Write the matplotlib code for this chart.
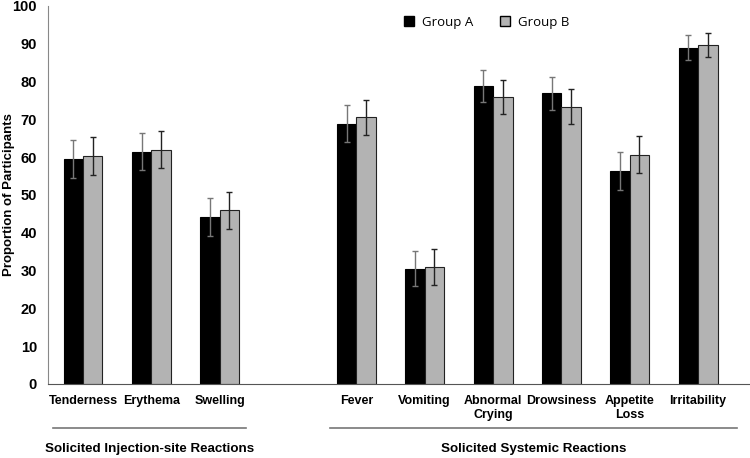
import matplotlib

matplotlib.use("Agg")
import matplotlib.pyplot as plt
from matplotlib.patches import Patch

categories = ["Tenderness", "Erythema", "Swelling",
              "Fever", "Vomiting", "Abnormal\nCrying", "Drowsiness",
              "Appetite\nLoss", "Irritability"]
group_a = [59.6, 61.4, 44.2, 68.9, 30.5, 78.8, 76.9, 56.4, 89.0]
group_b = [60.4, 62.0, 45.9, 70.5, 31.0, 75.9, 73.4, 60.6, 89.7]
err_a = [5.0, 4.9, 5.0, 4.8, 4.7, 4.3, 4.4, 5.0, 3.3]
err_b = [5.0, 4.9, 4.9, 4.6, 4.8, 4.4, 4.5, 4.9, 3.2]
groups = ["Solicited Injection-site Reactions", "Solicited Systemic Reactions"]
yticks = [0, 10, 20, 30, 40, 50, 60, 70, 80, 90, 100]

# slot positions: one empty slot between the two reaction groups
pos = [0, 1, 2, 4, 5, 6, 7, 8, 9]
w = 0.285

sans = ["Liberation Sans", "DejaVu Sans"]

fig = plt.figure(figsize=(7.5, 4.58), dpi=100)
ax = fig.add_axes([0.064, 0.1616, 0.936, 0.8254])

xa = [p - w / 2 for p in pos]
xb = [p + w / 2 for p in pos]
ax.bar(xa, group_a, w, color="black", edgecolor="black", lw=0.8, zorder=2)
ax.bar(xb, group_b, w, color="#b3b3b3", edgecolor="#222222", lw=0.8, zorder=2)
ax.errorbar(xa, group_a, yerr=err_a, fmt="none", ecolor="#777777",
            elinewidth=1.0, capsize=2.5, capthick=1.0, zorder=3)
ax.errorbar(xb, group_b, yerr=err_b, fmt="none", ecolor="#222222",
            elinewidth=1.0, capsize=2.5, capthick=1.0, zorder=3)

ax.set_xlim(-0.512, 9.76)
ax.set_ylim(0, 100)
ax.set_yticks(yticks)
ax.set_yticklabels([str(t) for t in yticks], fontsize=10.5, fontweight="bold",
                   family=sans)
ax.set_xticks(pos)
ax.set_xticklabels(categories, fontsize=9, fontweight="bold", family=sans,
                   linespacing=1.2, va="top")
ax.tick_params(axis="both", length=0)
ax.tick_params(axis="x", pad=8)
ax.tick_params(axis="y", pad=8)
for s in ("top", "right"):
    ax.spines[s].set_visible(False)
ax.spines["left"].set_color("#888888")
ax.spines["bottom"].set_color("#555555")
ax.set_ylabel("Proportion of Participants", fontsize=9.5, fontweight="bold",
              family=sans, va="center")
ax.yaxis.set_label_coords(-0.056, 0.5)

# group brackets under the category labels
tr = ax.get_xaxis_transform()
for (x0, x1), name in zip([(-0.44, 2.39), (3.61, 9.57)], groups):
    ax.plot([x0, x1], [-0.116, -0.116], color="#777777", lw=1.2,
            transform=tr, clip_on=False)
    ax.text((x0 + x1) / 2, -0.172, name, transform=tr, ha="center",
            va="center", fontsize=9.6, fontweight="bold", family=sans)

handles = [Patch(facecolor="black", edgecolor="black", label="Group A"),
           Patch(facecolor="#b3b3b3", edgecolor="black", label="Group B")]
ax.legend(handles=handles, loc="upper center", bbox_to_anchor=(0.625, 1.005),
          ncol=2, frameon=False, handlelength=0.8, handleheight=0.8,
          columnspacing=2.0, handletextpad=0.6,
          prop={"family": ["Open Sans", "DejaVu Sans"], "size": 9.5})

fig.savefig("out.png", dpi=100)
